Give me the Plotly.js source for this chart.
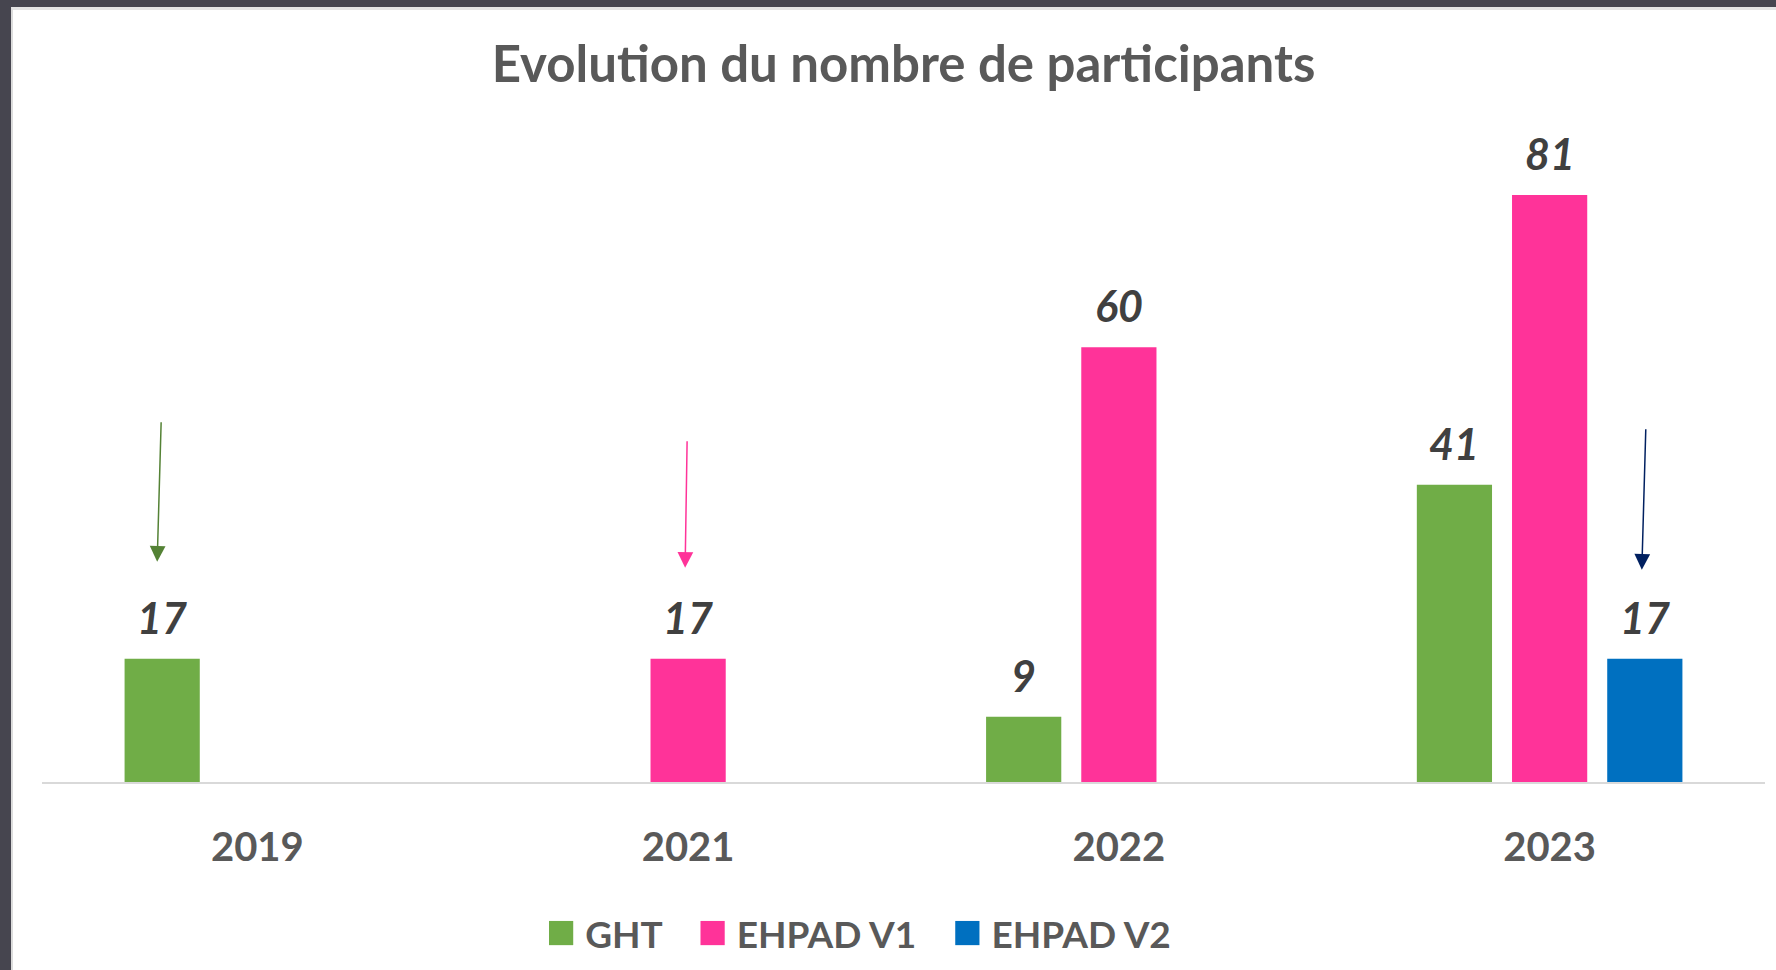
<!DOCTYPE html>
<html>
<head>
<meta charset="utf-8">
<script src="https://cdn.plot.ly/plotly-3.0.1.min.js"></script>
<style>
  html, body { margin: 0; padding: 0; width: 1776px; height: 970px; background: #46454f; overflow: hidden; }
  #frame { position: absolute; left: 11px; top: 7px; width: 1765px; height: 963px; background: #ffffff;
           border-left: 2px solid #dcdcdc; border-top: 3px solid #e4e4e4; box-sizing: border-box; }
  #chart { position: absolute; left: -3px; top: -3px; width: 1765px; height: 963px; }
</style>
</head>
<body>
<div id="frame"><div id="chart"></div></div>
<script>
// ---- data ----
const categories = ['2019', '2021', '2022', '2023'];
const seriesNames = ['GHT', 'EHPAD V1', 'EHPAD V2'];
const ghtValues = [17, null, 9, 41];
const ehpadV1Values = [null, 17, 60, 81];
const ehpadV2Values = [null, null, null, 17];
const seriesColors = ['#70AD47', '#FF3399', '#0070C0'];
const arrowColors = ['#548235', '#FF3399', '#002060'];
// arrows: series index, category
const arrowSeries = [0, 1, 2];
const arrowCategory = ['2019', '2021', '2023'];
const arrowLift = [97, 91, 89];      // px gap between bar top and arrow tip
const arrowLength = [141, 128, 142]; // px
const arrowLean = [4, 2, 4];         // px horizontal offset of the tail
const arrowNudge = [-5, -3, -3];     // px horizontal offset of the tip

const seriesValues = [ghtValues, ehpadV1Values, ehpadV2Values];

// ---- layout constants ----
const W = 1765, H = 963;
const M = { l: 32, r: 10, t: 93, b: 188 };
const BARGAP = 0.337, BARGROUPGAP = 0.21;
const YMAX = 94.1;
const plotW = W - M.l - M.r;
const plotH = H - M.t - M.b;
const catW = plotW / categories.length;
const slotW = catW * (1 - BARGAP) / seriesValues.length;

const traces = seriesValues.map((vals, i) => ({
  type: 'bar',
  name: seriesNames[i],
  x: categories,
  y: vals,
  marker: { color: seriesColors[i] },
  showlegend: false,
  hoverinfo: 'x+y+name'
}));

const annotations = [];
// value labels
seriesValues.forEach((vals, i) => {
  vals.forEach((v, j) => {
    if (v === null) return;
    annotations.push({
      x: j, y: v, xref: 'x', yref: 'y',
      xshift: (i - (seriesValues.length - 1) / 2) * slotW,
      yshift: 14, yanchor: 'bottom', showarrow: false,
      text: '<b><i>' + v + '</i></b>',
      font: { family: 'Lato, sans-serif', size: 43, color: '#404040' }
    });
  });
});
// arrows pointing down at the first bar of each series
arrowSeries.forEach((s, k) => {
  const j = categories.indexOf(arrowCategory[k]);
  const v = seriesValues[s][j];
  annotations.push({
    x: j, y: v, xref: 'x', yref: 'y',
    xshift: (s - (seriesValues.length - 1) / 2) * slotW + arrowNudge[k],
    yshift: arrowLift[k],
    ax: arrowLean[k], ay: -arrowLength[k],
    showarrow: true, text: '',
    arrowhead: 2, arrowsize: 2.1, arrowwidth: 1.5,
    arrowcolor: arrowColors[s]
  });
});
// legend
const legendText = seriesNames.map((n, i) =>
  '<span style="color:' + seriesColors[i] + ';font-size:50px">■</span> ' + n).join('&nbsp;&nbsp;&nbsp;&nbsp;');
annotations.push({
  x: (859.5 - 11 - M.l) / plotW, y: -(922 - (H - M.b)) / plotH,
  xref: 'paper', yref: 'paper', xanchor: 'center', yanchor: 'middle',
  showarrow: false, text: '<b>' + legendText + '</b>',
  font: { family: 'Lato, sans-serif', size: 37, color: '#595959' }
});

const layout = {
  width: W, height: H,
  margin: M,
  paper_bgcolor: 'rgba(0,0,0,0)',
  plot_bgcolor: 'rgba(0,0,0,0)',
  barmode: 'group',
  bargap: BARGAP,
  bargroupgap: BARGROUPGAP,
  title: {
    text: '<b>Evolution du nombre de participants</b>',
    font: { family: 'Lato, sans-serif', size: 51, color: '#595959' },
    x: 0.5, xref: 'paper', y: 1 - 57.5 / H, yref: 'container', yanchor: 'middle'
  },
  xaxis: {
    type: 'category',
    range: [-0.5, categories.length - 0.5],
    autorange: false,
    showline: true, linecolor: '#d9d9d9', linewidth: 2,
    showgrid: false, zeroline: false, ticks: '',
    tickfont: { family: 'Lato, sans-serif', size: 40, color: '#595959', weight: 'bold' },
    ticklabelstandoff: 29,
    fixedrange: true
  },
  yaxis: {
    range: [0, YMAX], autorange: false, visible: false, showgrid: false, zeroline: false, fixedrange: true
  },
  annotations: annotations,
  showlegend: false
};

Plotly.newPlot('chart', traces, layout, { displayModeBar: false, staticPlot: true });
</script>
</body>
</html>
